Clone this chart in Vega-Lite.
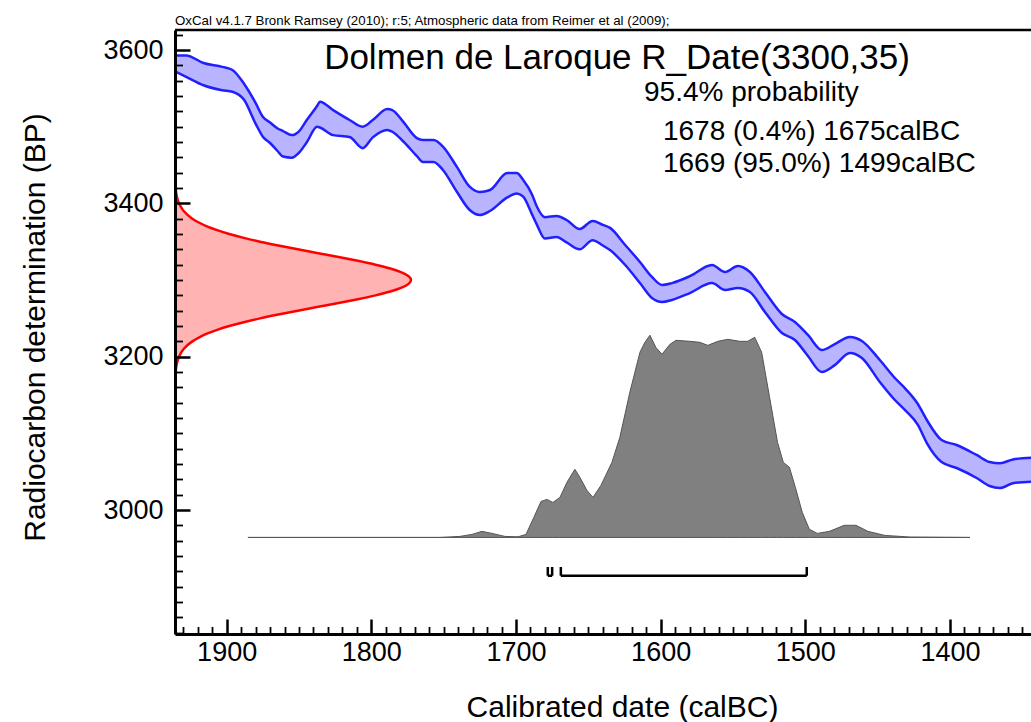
{
  "$schema": "https://vega.github.io/schema/vega-lite/v6.json",
  "width": 856,
  "height": 604,
  "autosize": {"type": "none"},
  "padding": {"left": 175, "top": 30, "right": 0, "bottom": 88},
  "background": "white",
  "config": {"view": {"stroke": null}, "font": "Liberation Sans"},
  "title": {"text": "OxCal v4.1.7 Bronk Ramsey (2010); r:5; Atmospheric data from Reimer et al (2009);", "anchor": "start", "frame": "group", "fontSize": 13.3, "font": "Liberation Sans", "fontWeight": "normal", "color": "black", "baseline": "alphabetic", "offset": -10, "dy": 8},
  "datasets": {
    "band": [
      {"year": 1935.7, "hi": 3593, "lo": 3572},
      {"year": 1928, "hi": 3593, "lo": 3565},
      {"year": 1916, "hi": 3583, "lo": 3554},
      {"year": 1903, "hi": 3578, "lo": 3547.5},
      {"year": 1896, "hi": 3574, "lo": 3545.5},
      {"year": 1888, "hi": 3556, "lo": 3535},
      {"year": 1880, "hi": 3531, "lo": 3504},
      {"year": 1875, "hi": 3513, "lo": 3487},
      {"year": 1870, "hi": 3505.5, "lo": 3478.7},
      {"year": 1865, "hi": 3498, "lo": 3468.6},
      {"year": 1861, "hi": 3494.3, "lo": 3461},
      {"year": 1855, "hi": 3489, "lo": 3459.5},
      {"year": 1850, "hi": 3494, "lo": 3466},
      {"year": 1844.5, "hi": 3509, "lo": 3480},
      {"year": 1837.5, "hi": 3527, "lo": 3500},
      {"year": 1835.5, "hi": 3532.6, "lo": 3499},
      {"year": 1826.5, "hi": 3521.7, "lo": 3489},
      {"year": 1815, "hi": 3508.7, "lo": 3486.5},
      {"year": 1806, "hi": 3500, "lo": 3472},
      {"year": 1799, "hi": 3508.7, "lo": 3486},
      {"year": 1789, "hi": 3523, "lo": 3495.7},
      {"year": 1785.5, "hi": 3521.7, "lo": 3493.4},
      {"year": 1778, "hi": 3506.5, "lo": 3481},
      {"year": 1768.5, "hi": 3485, "lo": 3461.6},
      {"year": 1764.3, "hi": 3482.6, "lo": 3454},
      {"year": 1757, "hi": 3482.6, "lo": 3454},
      {"year": 1750.5, "hi": 3474, "lo": 3443.5},
      {"year": 1741, "hi": 3448, "lo": 3415.5},
      {"year": 1732, "hi": 3421.7, "lo": 3391.3},
      {"year": 1725, "hi": 3414.8, "lo": 3384.8},
      {"year": 1718, "hi": 3417.4, "lo": 3390},
      {"year": 1706, "hi": 3439.6, "lo": 3407.7},
      {"year": 1699.5, "hi": 3439.6, "lo": 3413},
      {"year": 1695, "hi": 3430.4, "lo": 3408.7},
      {"year": 1689, "hi": 3412, "lo": 3386},
      {"year": 1685.5, "hi": 3395.6, "lo": 3372},
      {"year": 1680, "hi": 3382, "lo": 3354},
      {"year": 1672, "hi": 3383.5, "lo": 3356},
      {"year": 1665, "hi": 3378.3, "lo": 3349},
      {"year": 1656, "hi": 3366.5, "lo": 3340},
      {"year": 1647, "hi": 3377, "lo": 3352},
      {"year": 1640, "hi": 3372, "lo": 3345},
      {"year": 1635, "hi": 3368, "lo": 3339},
      {"year": 1624.5, "hi": 3345.7, "lo": 3319.6},
      {"year": 1614.3, "hi": 3323.5, "lo": 3296},
      {"year": 1606, "hi": 3304, "lo": 3276.5},
      {"year": 1599, "hi": 3293.5, "lo": 3271.3},
      {"year": 1592.2, "hi": 3296, "lo": 3274},
      {"year": 1579.8, "hi": 3305, "lo": 3283},
      {"year": 1564.5, "hi": 3319.6, "lo": 3296},
      {"year": 1555.5, "hi": 3310.4, "lo": 3287},
      {"year": 1546.6, "hi": 3318.3, "lo": 3289.6},
      {"year": 1538.3, "hi": 3310.4, "lo": 3284.4},
      {"year": 1527.9, "hi": 3284.4, "lo": 3258.3},
      {"year": 1516.2, "hi": 3255.7, "lo": 3230.9},
      {"year": 1507.2, "hi": 3245.2, "lo": 3221.8},
      {"year": 1498.2, "hi": 3228.3, "lo": 3200.9},
      {"year": 1488.6, "hi": 3208.7, "lo": 3180},
      {"year": 1479.6, "hi": 3216.5, "lo": 3189},
      {"year": 1469.2, "hi": 3225.7, "lo": 3204.8},
      {"year": 1460.9, "hi": 3220.5, "lo": 3198.3},
      {"year": 1448.5, "hi": 3195.7, "lo": 3167},
      {"year": 1438.1, "hi": 3172.2, "lo": 3143.5},
      {"year": 1431.2, "hi": 3159, "lo": 3130.5},
      {"year": 1422.2, "hi": 3138.3, "lo": 3111},
      {"year": 1416, "hi": 3117.4, "lo": 3087.4},
      {"year": 1405.8, "hi": 3091.3, "lo": 3062.6},
      {"year": 1395.4, "hi": 3084.8, "lo": 3054.8},
      {"year": 1381.6, "hi": 3071.8, "lo": 3041.8},
      {"year": 1372.6, "hi": 3062.6, "lo": 3031.3},
      {"year": 1365.5, "hi": 3061, "lo": 3028.7},
      {"year": 1356.5, "hi": 3066, "lo": 3035},
      {"year": 1344, "hi": 3068.2, "lo": 3036.9}
    ],
    "measurement": [
      {"bp": 3160, "p": 0.00033}, {"bp": 3170, "p": 0.00101}, {"bp": 3180, "p": 0.0028},
      {"bp": 3190, "p": 0.00716}, {"bp": 3200, "p": 0.0169}, {"bp": 3210, "p": 0.0367},
      {"bp": 3220, "p": 0.0734}, {"bp": 3225, "p": 0.1011}, {"bp": 3230, "p": 0.1353},
      {"bp": 3235, "p": 0.1785}, {"bp": 3240, "p": 0.2299}, {"bp": 3245, "p": 0.2913},
      {"bp": 3250, "p": 0.3604}, {"bp": 3255, "p": 0.4376}, {"bp": 3260, "p": 0.5203},
      {"bp": 3265, "p": 0.6065}, {"bp": 3270, "p": 0.693}, {"bp": 3275, "p": 0.7748},
      {"bp": 3280, "p": 0.8494}, {"bp": 3285, "p": 0.9124}, {"bp": 3290, "p": 0.96},
      {"bp": 3295, "p": 0.9899}, {"bp": 3300, "p": 1},
      {"bp": 3305, "p": 0.9899}, {"bp": 3310, "p": 0.96}, {"bp": 3315, "p": 0.9124},
      {"bp": 3320, "p": 0.8494}, {"bp": 3325, "p": 0.7748}, {"bp": 3330, "p": 0.693},
      {"bp": 3335, "p": 0.6065}, {"bp": 3340, "p": 0.5203}, {"bp": 3345, "p": 0.4376},
      {"bp": 3350, "p": 0.3604}, {"bp": 3355, "p": 0.2913}, {"bp": 3360, "p": 0.2299},
      {"bp": 3365, "p": 0.1785}, {"bp": 3370, "p": 0.1353}, {"bp": 3375, "p": 0.1011},
      {"bp": 3380, "p": 0.0734}, {"bp": 3390, "p": 0.0367}, {"bp": 3400, "p": 0.0169},
      {"bp": 3410, "p": 0.00716}, {"bp": 3420, "p": 0.0028}, {"bp": 3430, "p": 0.00101},
      {"bp": 3440, "p": 0.00033}
    ],
    "calibrated": [
      {"year": 1885.3, "p": 0}, {"year": 1752.6, "p": 0}, {"year": 1738.8, "p": 0.005},
      {"year": 1730.4, "p": 0.015}, {"year": 1723.5, "p": 0.03}, {"year": 1716.6, "p": 0.02},
      {"year": 1707.6, "p": 0.005}, {"year": 1698.6, "p": 0.003}, {"year": 1693.1, "p": 0.015},
      {"year": 1687.6, "p": 0.1}, {"year": 1682.7, "p": 0.178}, {"year": 1678.6, "p": 0.188},
      {"year": 1674.5, "p": 0.173}, {"year": 1669.6, "p": 0.198}, {"year": 1664.8, "p": 0.272},
      {"year": 1659.3, "p": 0.337}, {"year": 1655.8, "p": 0.297}, {"year": 1651, "p": 0.233},
      {"year": 1646.8, "p": 0.198}, {"year": 1641.3, "p": 0.257}, {"year": 1633.7, "p": 0.371},
      {"year": 1628.2, "p": 0.495}, {"year": 1621.3, "p": 0.718}, {"year": 1614.3, "p": 0.916},
      {"year": 1610.9, "p": 0.965}, {"year": 1607.4, "p": 1.0}, {"year": 1603.3, "p": 0.94},
      {"year": 1599.1, "p": 0.906}, {"year": 1593.6, "p": 0.955}, {"year": 1589.4, "p": 0.975},
      {"year": 1579.8, "p": 0.97}, {"year": 1572.9, "p": 0.965}, {"year": 1567.4, "p": 0.95},
      {"year": 1560.5, "p": 0.97}, {"year": 1553.6, "p": 0.98}, {"year": 1545.3, "p": 0.97},
      {"year": 1539.8, "p": 0.97}, {"year": 1535, "p": 0.99}, {"year": 1530.2, "p": 0.916},
      {"year": 1524.7, "p": 0.693}, {"year": 1519.2, "p": 0.47}, {"year": 1515.2, "p": 0.371},
      {"year": 1511, "p": 0.347}, {"year": 1506.9, "p": 0.248}, {"year": 1502.1, "p": 0.124},
      {"year": 1497.2, "p": 0.04}, {"year": 1491.7, "p": 0.02}, {"year": 1483.4, "p": 0.03},
      {"year": 1473.1, "p": 0.06}, {"year": 1465, "p": 0.06}, {"year": 1456.7, "p": 0.03},
      {"year": 1445, "p": 0.01}, {"year": 1427.7, "p": 0.002}, {"year": 1386.2, "p": 0}
    ],
    "ranges": [
      {"from": 1678, "to": 1675},
      {"from": 1669, "to": 1499}
    ],
    "titles": [
      {"label": "Dolmen de Laroque R_Date(3300,35)", "year": 1630.2, "bp": 3575}
    ],
    "info": [
      {"label": "95.4% probability", "year": 1611.5, "bp": 3533.5},
      {"label": "1678 (0.4%) 1675calBC", "year": 1598.4, "bp": 3482.6},
      {"label": "1669 (95.0%) 1499calBC", "year": 1598.4, "bp": 3440.9}
    ]
  },
  "layer": [
    {
      "layer": [
        {
          "data": {"name": "band"},
          "mark": {"type": "area", "fill": "#b9b4ff", "opacity": 1, "interpolate": "monotone", "clip": true},
          "encoding": {
            "x": {"field": "year", "type": "quantitative",
              "scale": {"domain": [1344, 1935.7], "reverse": true, "nice": false, "zero": false},
              "axis": {
                "values": [1350,1360,1370,1380,1390,1400,1410,1420,1430,1440,1450,1460,1470,1480,1490,1500,1510,1520,1530,1540,1550,1560,1570,1580,1590,1600,1610,1620,1630,1640,1650,1660,1670,1680,1690,1700,1710,1720,1730,1740,1750,1760,1770,1780,1790,1800,1810,1820,1830,1840,1850,1860,1870,1880,1890,1900,1910,1920,1930],
                "tickCount": 500,
                "format": "d",
                "labelExpr": "datum.value % 100 === 0 ? datum.label : ''",
                "labelOverlap": false, "labelFlush": false,
                "labelFont": "Liberation Sans", "labelFontSize": 27, "labelColor": "black", "labelPadding": 20,
                "domainColor": "black", "domainWidth": 3,
                "tickColor": "black",
                "tickSize": {"condition": {"test": "datum.value % 100 === 0", "value": -15}, "value": -7.5},
                "tickWidth": {"condition": {"test": "datum.value % 100 === 0", "value": 2.5}, "value": 1.8},
                "grid": false, "zindex": 1,
                "title": "Calibrated date (calBC)", "titleFont": "Liberation Sans", "titleFontSize": 30, "titleFontWeight": "normal", "titleColor": "black",
                "titleX": 447, "titleY": 82, "titleBaseline": "alphabetic", "titleAlign": "center"
              }
            },
            "y": {"field": "hi", "type": "quantitative",
              "scale": {"domain": [2838.3, 3626.1], "nice": false, "zero": false},
              "axis": {
                "values": [2840,2860,2880,2900,2920,2940,2960,2980,3000,3020,3040,3060,3080,3100,3120,3140,3160,3180,3200,3220,3240,3260,3280,3300,3320,3340,3360,3380,3400,3420,3440,3460,3480,3500,3520,3540,3560,3580,3600,3620],
                "tickCount": 500,
                "format": "d",
                "labelExpr": "datum.value % 200 === 0 ? datum.label : ''",
                "labelOverlap": false, "labelFlush": false,
                "labelFont": "Liberation Sans", "labelFontSize": 27, "labelColor": "black", "labelPadding": 27,
                "domainColor": "black", "domainWidth": 3,
                "tickColor": "black",
                "tickSize": {"condition": {"test": "datum.value % 200 === 0", "value": -15}, "value": -7.5},
                "tickWidth": {"condition": {"test": "datum.value % 200 === 0", "value": 2.5}, "value": 1.8},
                "grid": false, "zindex": 1,
                "title": "Radiocarbon determination (BP)", "titleFont": "Liberation Sans", "titleFontSize": 30, "titleFontWeight": "normal", "titleColor": "black",
                "titleX": -131, "titleY": 297, "titleAngle": 270, "titleBaseline": "alphabetic", "titleAlign": "center"
              }
            },
            "y2": {"field": "lo"}
          }
        },
        {
          "data": {"name": "band"},
          "mark": {"type": "line", "stroke": "#2020ff", "strokeWidth": 2.5, "interpolate": "monotone", "clip": true},
          "encoding": {
            "x": {"field": "year", "type": "quantitative"},
            "y": {"field": "hi", "type": "quantitative"}
          }
        },
        {
          "data": {"name": "band"},
          "mark": {"type": "line", "stroke": "#2020ff", "strokeWidth": 2.5, "interpolate": "monotone", "clip": true},
          "encoding": {
            "x": {"field": "year", "type": "quantitative"},
            "y": {"field": "lo", "type": "quantitative"}
          }
        },
        {
          "data": {"values": [{}]},
          "mark": {"type": "rule", "stroke": "black", "strokeWidth": 2.5},
          "encoding": {"y": {"datum": 3626.1, "type": "quantitative"}}
        },
        {
          "data": {"name": "ranges"},
          "mark": {"type": "rule", "stroke": "black", "strokeWidth": 2.5},
          "encoding": {
            "x": {"field": "from", "type": "quantitative"},
            "x2": {"field": "to"},
            "y": {"datum": 2914.3, "type": "quantitative"}
          }
        },
        {
          "data": {"name": "ranges"},
          "mark": {"type": "rule", "stroke": "black", "strokeWidth": 2.5},
          "encoding": {
            "x": {"field": "from", "type": "quantitative"},
            "y": {"datum": 2914.3, "type": "quantitative"},
            "y2": {"datum": 2925.7}
          }
        },
        {
          "data": {"name": "ranges"},
          "mark": {"type": "rule", "stroke": "black", "strokeWidth": 2.5},
          "encoding": {
            "x": {"field": "to", "type": "quantitative"},
            "y": {"datum": 2914.3, "type": "quantitative"},
            "y2": {"datum": 2925.7}
          }
        },
        {
          "data": {"name": "titles"},
          "mark": {"type": "text", "font": "Liberation Sans", "fontSize": 35, "align": "center", "baseline": "alphabetic", "color": "black"},
          "encoding": {
            "x": {"field": "year", "type": "quantitative"},
            "y": {"field": "bp", "type": "quantitative"},
            "text": {"field": "label"}
          }
        },
        {
          "data": {"name": "info"},
          "mark": {"type": "text", "font": "Liberation Sans", "fontSize": 28, "align": "left", "baseline": "alphabetic", "color": "black"},
          "encoding": {
            "x": {"field": "year", "type": "quantitative"},
            "y": {"field": "bp", "type": "quantitative"},
            "text": {"field": "label"}
          }
        }
      ]
    },
    {
      "data": {"name": "measurement"},
      "mark": {"type": "area", "orient": "horizontal", "fill": "#ffb3b3", "stroke": "#ff0000", "strokeWidth": 2.5, "interpolate": "monotone", "clip": true},
      "encoding": {
        "x": {"field": "p", "type": "quantitative", "scale": {"domain": [0, 3.627], "nice": false, "zero": false}, "axis": null},
        "y": {"field": "bp", "type": "quantitative", "scale": {"domain": [2838.3, 3626.1], "nice": false, "zero": false}, "axis": null}
      }
    },
    {
      "data": {"name": "calibrated"},
      "mark": {"type": "area", "fill": "#808080", "stroke": "#555555", "strokeWidth": 1, "interpolate": "linear"},
      "encoding": {
        "x": {"field": "year", "type": "quantitative", "scale": {"domain": [1344, 1935.7], "reverse": true, "nice": false, "zero": false}, "axis": null},
        "y": {"field": "p", "type": "quantitative", "scale": {"domain": [-0.4777, 2.51], "nice": false, "zero": false}, "axis": null}
      }
    }
  ],
  "resolve": {"scale": {"x": "independent", "y": "independent"}}
}
